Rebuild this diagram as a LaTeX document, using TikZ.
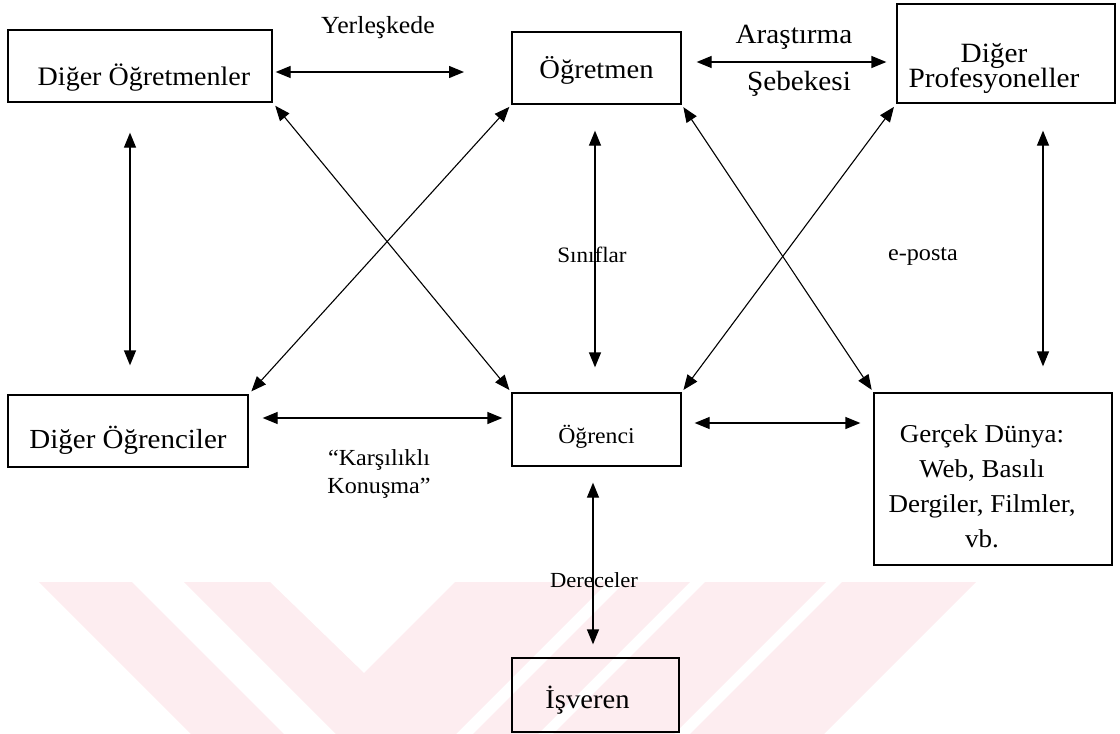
\documentclass[tikz,border=0pt]{standalone}
\usepackage{fontspec}
\setmainfont{Liberation Serif}[FakeStretch=1.05]
\usetikzlibrary{arrows.meta,calc}
\definecolor{wm}{RGB}{253,237,240}
\newcommand{\fs}[2]{\fontsize{#1}{#2}\selectfont}
\begin{document}
\begin{tikzpicture}[x=1pt,y=-1pt,
  box/.style={draw, line width=1.3pt, rectangle, inner sep=0pt, text depth=0pt},
  dbl/.style={line width=1.3pt, {Triangle[length=15pt,width=12pt]}-{Triangle[length=15pt,width=12pt]}},
  diag/.style={dbl, line width=1.1pt},
  lbl/.style={anchor=base, inner sep=0pt},
  wmark/.style={fill=wm, draw=none}]
\useasboundingbox (0,0) rectangle (1120,734);
% watermark
\fill[wmark] (39,582) -- (132,582) -- (284,734) -- (191,734) -- cycle;
\fill[wmark] (184,582) -- (270,582) -- (364,673) -- (455,582) -- (608,582) -- (456,734) -- (336,734) -- cycle;
\fill[wmark] (625,582) -- (690,582) -- (538,734) -- (473,734) -- cycle;
\fill[wmark] (705,582) -- (826,582) -- (674,734) -- (553,734) -- cycle;
\fill[wmark] (842,582) -- (976,582) -- (824,734) -- (690,734) -- cycle;
% boxes
\node[box, minimum width=264pt, minimum height=72pt, font=\fs{26.7}{30}, text height=38pt] (do) at (140,66) {\hspace*{8pt}Diğer Öğretmenler};
\node[box, minimum width=169pt, minimum height=72pt, font=\fs{27.2}{30}, text height=20pt] (ogm) at (596.5,68) {Öğretmen};
\node[box, minimum width=218pt, minimum height=99pt, font=\fs{27.9}{25}, text height=17pt] (dp) at (1006,53.5) {\begin{tabular}[t]{@{}c@{\hspace{24pt}}}Diğer\\[-1.6pt]Profesyoneller\end{tabular}};
\node[box, minimum width=240pt, minimum height=72pt, font=\fs{27.6}{30}, text height=34pt] (dogr) at (128,431) {Diğer Öğrenciler};
\node[box, minimum width=169pt, minimum height=73pt, font=\fs{22.6}{26}, text height=27pt] (ogr) at (596.5,429.5) {Öğrenci};
\node[box, minimum width=238pt, minimum height=172pt, font=\fs{25.7}{35}, text height=0pt, text depth=74pt] (gd) at (993,479) {\begin{tabular}[t]{@{}c@{\hspace{22pt}}}Gerçek Dünya:\\Web, Basılı\\Dergiler, Filmler,\\vb.\end{tabular}};
\node[box, minimum width=167pt, minimum height=74pt, font=\fs{27.2}{30}, text height=26pt] (isv) at (595.5,695) {İşveren\hspace*{16pt}};
% labels
\node[lbl, font=\fs{24.6}{28}] (yer) at (378,33) {Yerleşkede};
\node[lbl, font=\fs{27.8}{30}] (ara) at (794,43) {Araştırma};
\node[lbl, font=\fs{27.8}{30}] (seb) at (799,90) {Şebekesi};
\node[lbl, font=\fs{22}{26}] (sin) at (592,262) {Sınıflar};
\node[lbl, font=\fs{23}{26}] (epo) at (923,260) {e-posta};
\node[lbl, font=\fs{23}{28}] (kar) at (379,465) {\begin{tabular}[t]{@{}c@{}}“Karşılıklı\\Konuşma”\end{tabular}};
\node[lbl, font=\fs{21.5}{26}] (der) at (594,587) {Dereceler};
% connectors
\coordinate (yerR) at (464,72);
\draw[dbl, shorten <=3pt] (do.east |- yerR) -- (yerR);
\coordinate (a2) at ([yshift=6pt]ogm.east);
\draw[dbl, shorten <=15pt, shorten >=10pt] (a2) -- (a2 -| dp.west);
\coordinate (a3) at ([xshift=-10pt]do.south);
\draw[dbl, shorten <=30pt, shorten >=29pt] (a3) -- (a3 |- dogr.north);
\draw[dbl, shorten <=26pt, shorten >=25pt] ([xshift=-1.5pt]ogm.south) -- ([xshift=-1.5pt]ogr.north);
\coordinate (a5) at ([xshift=37pt]dp.south);
\draw[dbl, shorten <=27pt, shorten >=26pt] (a5) -- (a5 |- gd.north);
\coordinate (a6) at ([yshift=13pt]dogr.east);
\draw[dbl, shorten <=14pt, shorten >=9pt] (a6) -- (a6 -| ogr.west);
\coordinate (a7) at ([yshift=6.5pt]ogr.east);
\draw[dbl, shorten <=13pt, shorten >=13pt] (a7) -- (a7 -| gd.west);
\draw[dbl, shorten <=16pt, shorten >=13pt] ([xshift=-3.5pt]ogr.south) -- ([xshift=-2.5pt]isv.north);
\draw[diag, shorten <=4pt, shorten >=3pt] (do.south east) -- (ogr.north west);
\draw[diag, shorten <=3pt, shorten >=4pt] (ogm.south west) -- (dogr.north east);
\draw[diag, shorten <=3pt, shorten >=3pt] (ogm.south east) -- (gd.north west);
\draw[diag, shorten <=4pt, shorten >=3pt] (dp.south west) -- (ogr.north east);
\end{tikzpicture}
\end{document}
